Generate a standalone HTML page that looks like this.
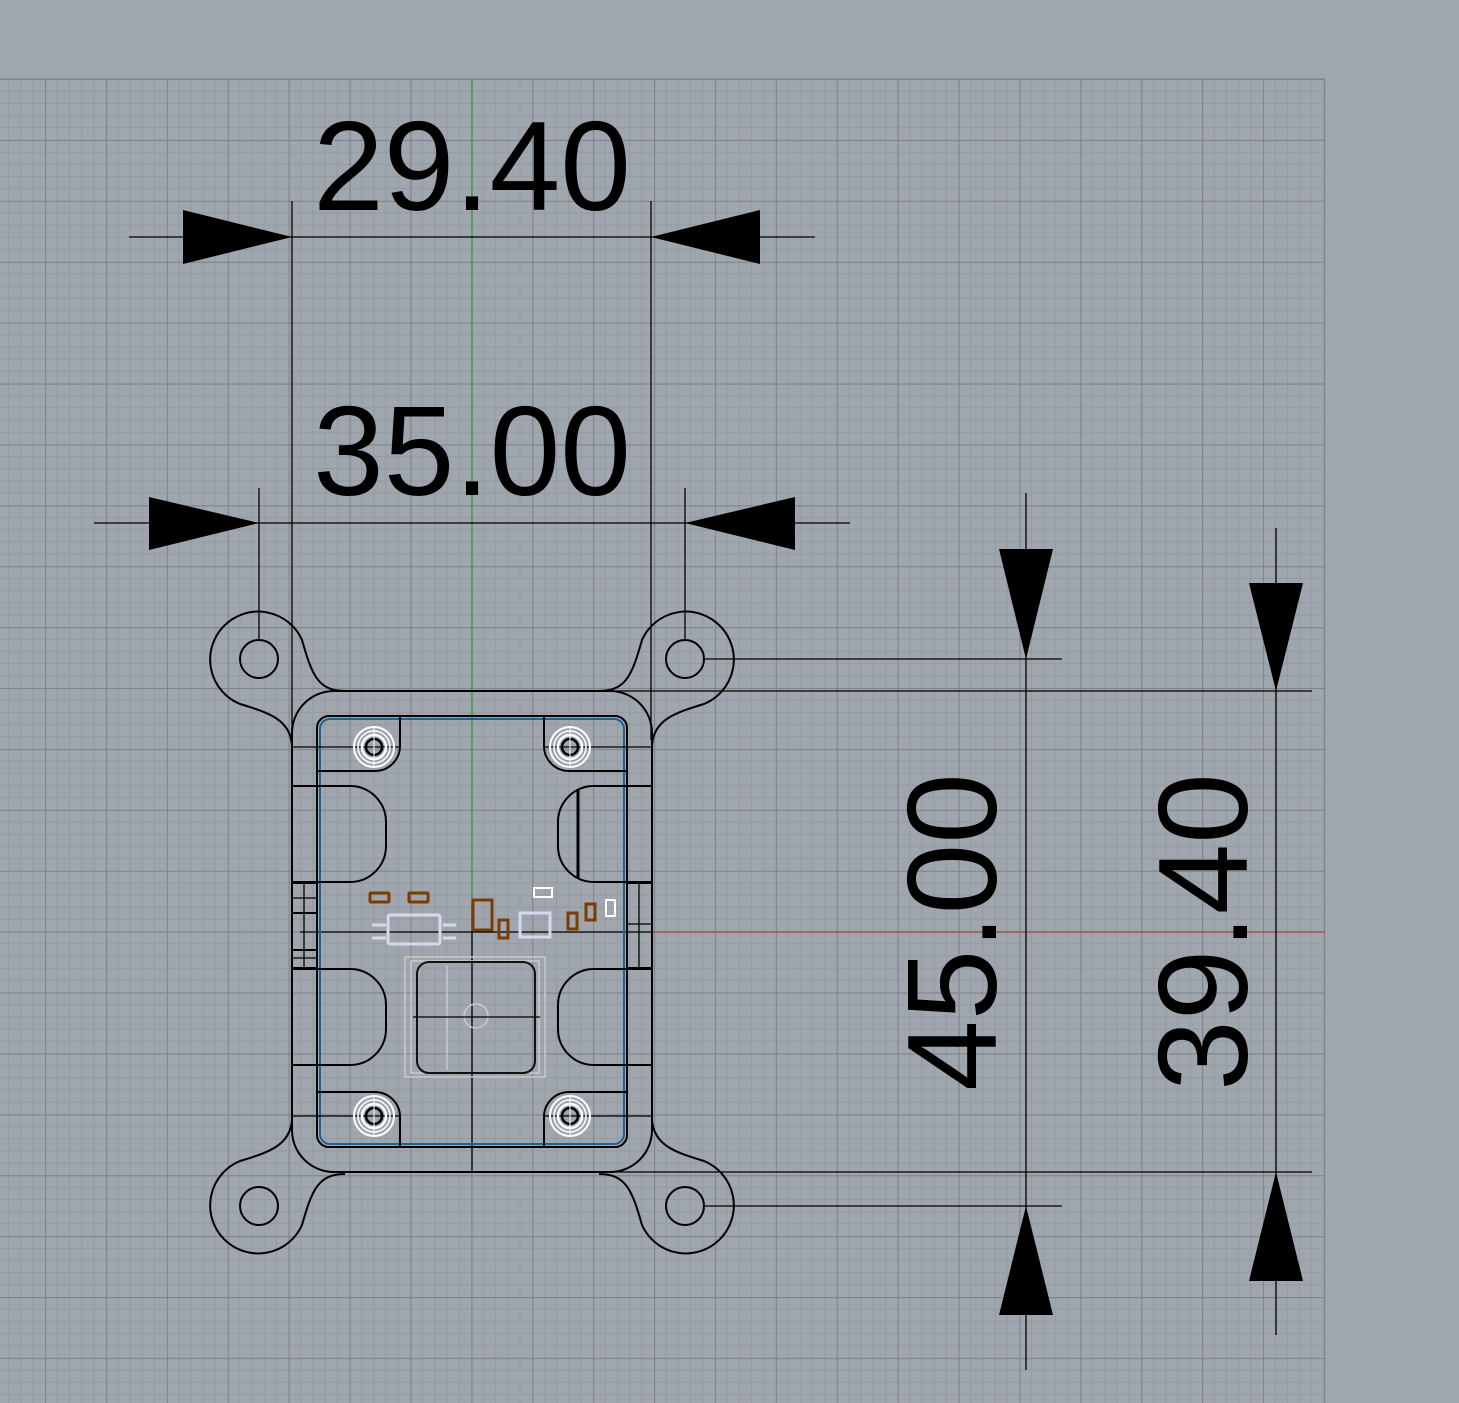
<!DOCTYPE html>
<html><head><meta charset="utf-8"><style>
html,body{margin:0;padding:0;background:#a0a6ad;}
svg{display:block;}
text{font-family:"Liberation Sans",Arial,sans-serif;fill:#000;}
</style></head><body>
<svg width="1459" height="1403" viewBox="0 0 1459 1403" xmlns="http://www.w3.org/2000/svg">
<defs>
<pattern id="g" patternUnits="userSpaceOnUse" x="45" y="79" width="60.9" height="60.9">
<g stroke="#959aa1" stroke-width="1">
<line x1="12.18" y1="0" x2="12.18" y2="60.9"/><line x1="24.36" y1="0" x2="24.36" y2="60.9"/><line x1="36.54" y1="0" x2="36.54" y2="60.9"/><line x1="48.72" y1="0" x2="48.72" y2="60.9"/>
<line y1="12.18" x1="0" y2="12.18" x2="60.9"/><line y1="24.36" x1="0" y2="24.36" x2="60.9"/><line y1="36.54" x1="0" y2="36.54" x2="60.9"/><line y1="48.72" x1="0" y2="48.72" x2="60.9"/>
</g>
<g stroke="#80848b" stroke-width="1.3"><line x1="0.5" y1="0" x2="0.5" y2="60.9"/><line y1="0.5" x1="0" y2="0.5" x2="60.9"/></g>
</pattern>
<g id="ear">
<path d="M345 691 C318 691 312 675 302 640 A48 48 0 1 0 240 704 C270 713 290 720 292 745" fill="none" stroke="#000" stroke-width="2"/>
<circle cx="259" cy="659" r="19" fill="none" stroke="#000" stroke-width="2"/>
</g>
<g id="pad">
<path d="M318 771 H375 A25 25 0 0 0 400 746 V716" fill="none" stroke="#000" stroke-width="2"/>
<line x1="292" y1="747" x2="400" y2="747" stroke="#000" stroke-width="1.3"/>
<circle cx="374" cy="747" r="20" fill="none" stroke="#fff" stroke-width="2"/>
<circle cx="374" cy="747" r="16" fill="none" stroke="#fff" stroke-width="1.5"/>
<circle cx="374" cy="747" r="12" fill="none" stroke="#fff" stroke-width="2.5"/>
<circle cx="374" cy="747" r="8" fill="none" stroke="#000" stroke-width="2.5"/>
<line x1="374" y1="727" x2="374" y2="767" stroke="#fff" stroke-width="1"/>
</g>
<g id="cut">
<path d="M293 786 H350 A36 36 0 0 1 386 822 V846 A36 36 0 0 1 350 882 H293" fill="none" stroke="#000" stroke-width="2"/>
</g>
</defs>
<rect x="0" y="79" width="1325" height="1324" fill="url(#g)"/>
<line x1="0" y1="79" x2="1325" y2="79" stroke="#80848b" stroke-width="1.3"/>
<line x1="1324.5" y1="79" x2="1324.5" y2="1403" stroke="#80848b" stroke-width="1.3"/>

<line x1="472" y1="79" x2="472" y2="905" stroke="#3a9a3a" stroke-width="1.3"/>
<line x1="652" y1="932" x2="1325" y2="932" stroke="#9a4a4a" stroke-width="1.3"/>
<line x1="472" y1="905" x2="472" y2="1172" stroke="#000" stroke-width="1.3"/>
<line x1="300" y1="932" x2="652" y2="932" stroke="#000" stroke-width="1.3"/>

<rect x="292" y="691" width="360" height="481" rx="42" fill="none" stroke="#000" stroke-width="2"/>
<use href="#ear"/>
<use href="#ear" transform="translate(944,0) scale(-1,1)"/>
<use href="#ear" transform="translate(0,1865) scale(1,-1)"/>
<use href="#ear" transform="translate(944,1865) scale(-1,-1)"/>

<rect x="317" y="716" width="310" height="431" rx="12" fill="none" stroke="#000" stroke-width="2"/>
<rect x="320" y="719" width="304" height="425" rx="10" fill="none" stroke="#1a6496" stroke-width="2"/>

<use href="#pad"/>
<use href="#pad" transform="translate(944,0) scale(-1,1)"/>
<use href="#pad" transform="translate(0,1863) scale(1,-1)"/>
<use href="#pad" transform="translate(944,1863) scale(-1,-1)"/>

<use href="#cut"/>
<use href="#cut" transform="translate(0,183)"/>
<use href="#cut" transform="translate(944,0) scale(-1,1)"/>
<use href="#cut" transform="translate(944,183) scale(-1,1)"/>
<line x1="578" y1="790" x2="578" y2="878" stroke="#000" stroke-width="3"/>

<g fill="none" stroke="#000" stroke-width="2">
<line x1="292" y1="883" x2="317" y2="883"/><line x1="292" y1="968" x2="317" y2="968"/>
<line x1="292" y1="913" x2="317" y2="913"/><line x1="292" y1="950" x2="317" y2="950"/>
<line x1="304" y1="883" x2="304" y2="968" stroke-width="1.3"/>
<line x1="292" y1="898" x2="317" y2="898" stroke-width="1.3"/>
<line x1="292" y1="958" x2="317" y2="958" stroke-width="1.3"/>
<line x1="627" y1="883" x2="652" y2="883"/><line x1="627" y1="968" x2="652" y2="968"/>
<line x1="639" y1="883" x2="639" y2="968" stroke-width="1.3"/>
<line x1="627" y1="924" x2="652" y2="924" stroke-width="1.3"/>
</g>

<g fill="none" stroke="#c9cbcd" stroke-width="1.5">
<rect x="405" y="957" width="140" height="120"/>
<rect x="411" y="961" width="128" height="112"/>
<circle cx="476" cy="1016" r="12"/>
<line x1="447" y1="965" x2="447" y2="1070"/>
</g>
<rect x="417" y="962" width="118" height="111" rx="12" fill="none" stroke="#111" stroke-width="2"/>
<line x1="413" y1="1017" x2="540" y2="1017" stroke="#000" stroke-width="1.3"/>
<g fill="none" stroke="#d6d8ee" stroke-width="3">
<rect x="388" y="915" width="52" height="29" rx="2"/>
<rect x="520" y="913" width="30" height="24"/>
<line x1="372" y1="925" x2="386" y2="925"/><line x1="372" y1="938" x2="386" y2="938"/>
<line x1="443" y1="925" x2="456" y2="925"/><line x1="443" y1="938" x2="456" y2="938"/>
</g>
<g fill="none" stroke="#7a3c05" stroke-width="3">
<rect x="370" y="893" width="19" height="9" rx="1"/>
<rect x="409" y="893" width="19" height="9" rx="1"/>
<rect x="473" y="900" width="19" height="30"/>
<rect x="499" y="920" width="9" height="18"/>
<rect x="568" y="913" width="9" height="16"/>
<rect x="586" y="904" width="9" height="16"/>
</g>
<rect x="534" y="888" width="18" height="9" fill="none" stroke="#fff" stroke-width="2"/>
<rect x="606" y="900" width="9" height="16" fill="none" stroke="#fff" stroke-width="2"/>

<g stroke="#000" stroke-width="1.3">
<line x1="129" y1="237" x2="815" y2="237"/>
<line x1="292" y1="201" x2="292" y2="740"/>
<line x1="651" y1="201" x2="651" y2="740"/>
<line x1="94" y1="523" x2="850" y2="523"/>
<line x1="259" y1="488" x2="259" y2="640"/>
<line x1="685" y1="488" x2="685" y2="640"/>
<line x1="1026" y1="493" x2="1026" y2="1370"/>
<line x1="705" y1="659" x2="1062" y2="659"/>
<line x1="705" y1="1206" x2="1062" y2="1206"/>
<line x1="1276" y1="528" x2="1276" y2="1335"/>
<line x1="600" y1="691" x2="1312" y2="691"/>
<line x1="600" y1="1172" x2="1312" y2="1172"/>
</g>
<g fill="#000">
<polygon points="292,237 183,210 183,264"/>
<polygon points="651,237 760,210 760,264"/>
<polygon points="259,523 149,497 149,550"/>
<polygon points="685,523 795,497 795,550"/>
<polygon points="1026,659 999,549 1053,549"/>
<polygon points="1026,1206 999,1315 1053,1315"/>
<polygon points="1276,691 1249,583 1303,583"/>
<polygon points="1276,1172 1249,1281 1303,1281"/>
</g>
<text x="472" y="210" font-size="127" text-anchor="middle">29.40</text>
<text x="472" y="495" font-size="127" text-anchor="middle">35.00</text>
<text transform="translate(996,932) rotate(-90)" font-size="127" text-anchor="middle">45.00</text>
<text transform="translate(1247,932) rotate(-90)" font-size="127" text-anchor="middle">39.40</text>
</svg>
</body></html>
